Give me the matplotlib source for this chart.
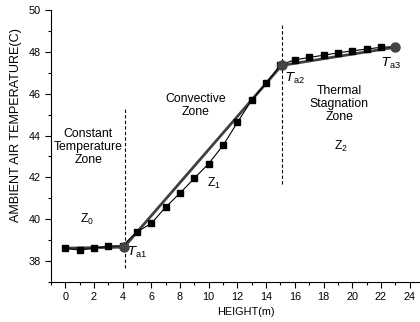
import matplotlib.pyplot as plt
from matplotlib.ticker import MultipleLocator

plt.rcParams['font.family'] = ['Liberation Sans', 'DejaVu Sans']

# measured data (height in m, ambient air temperature in C)
height = list(range(24))
temp = [38.61, 38.53, 38.61, 38.72, 38.74, 39.40, 39.80, 40.58, 41.25, 41.96,
        42.66, 43.53, 44.63, 45.70, 46.50, 47.38, 47.62, 47.73, 47.84, 47.95,
        48.05, 48.13, 48.22, 48.25]

# piecewise fit through the transition points
fit_x = [0, 4.1, 15.08, 23]
fit_y = [38.62, 38.67, 47.35, 48.22]
break_x = [4.1, 15.08, 23]
break_y = [38.67, 47.35, 48.22]

fig = plt.figure(figsize=(4.2, 3.22), dpi=100)
ax = fig.add_axes([0.121, 0.124, 0.879, 0.845])

ax.plot(fit_x, fit_y, color='#404040', linewidth=2.0, zorder=2)
ax.plot(height, temp, color='black', linewidth=0.8, marker='s',
        markersize=4.2, zorder=3)
ax.plot(break_x, break_y, 'o', color='#444444', markersize=6.5, zorder=4)

# zone boundaries
ax.plot([4.15, 4.15], [37.65, 45.37], color='black', linestyle='--',
        linewidth=0.8, dashes=(3, 2))
ax.plot([15.1, 15.1], [41.7, 49.37], color='black', linestyle='--',
        linewidth=0.8, dashes=(3, 2))

fs = 8.8
ax.text(1.6, 43.45, 'Constant\nTemperature\nZone', ha='center', va='center',
        fontsize=fs, linespacing=1.1)
ax.text(9.1, 45.45, 'Convective\nZone', ha='center', va='center',
        fontsize=fs, linespacing=1.1)
ax.text(19.1, 45.5, 'Thermal\nStagnation\nZone', ha='center', va='center',
        fontsize=fs, linespacing=1.1)

ax.text(1.55, 40.0, r'Z$_{\mathregular{0}}$', ha='center', va='center', fontsize=fs)
ax.text(10.4, 41.7, r'Z$_{\mathregular{1}}$', ha='center', va='center', fontsize=fs)
ax.text(19.25, 43.5, r'Z$_{\mathregular{2}}$', ha='center', va='center', fontsize=fs)

ax.text(5.0, 38.4, r'$\mathit{T}_{\mathregular{a1}}$', ha='center', va='center', fontsize=9.5)
ax.text(16.0, 46.75, r'$\mathit{T}_{\mathregular{a2}}$', ha='center', va='center', fontsize=9.5)
ax.text(22.7, 47.45, r'$\mathit{T}_{\mathregular{a3}}$', ha='center', va='center', fontsize=9.5)

ax.set_xlim(-1, 24.72)
ax.set_ylim(37, 50)
ax.xaxis.set_major_locator(MultipleLocator(2))
ax.xaxis.set_minor_locator(MultipleLocator(1))
ax.yaxis.set_major_locator(MultipleLocator(2))
ax.yaxis.set_minor_locator(MultipleLocator(1))
ax.tick_params(which='major', direction='out', length=4, width=0.8, labelsize=7.8)
ax.tick_params(which='minor', direction='out', length=2.5, width=0.8)
ax.spines['top'].set_visible(False)
ax.spines['right'].set_visible(False)
ax.set_xlabel('HEIGHT(m)', fontsize=7.8)
ax.set_ylabel('AMBIENT AIR TEMPERATURE(C)', fontsize=9.1)
ax.xaxis.set_label_coords(0.527, -0.092)
ax.yaxis.set_label_coords(-0.077, 0.577)

fig.savefig('out.png', dpi=100)
